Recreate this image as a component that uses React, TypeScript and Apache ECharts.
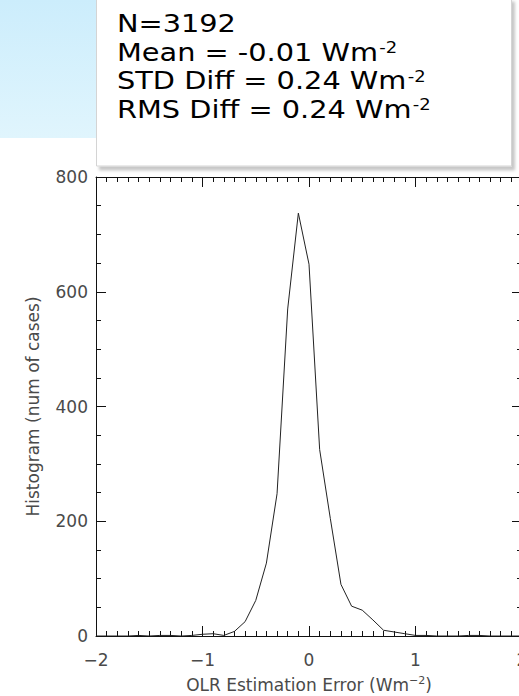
import React, { useEffect, useRef } from "react";
import * as echarts from "echarts";

const binCenters = [
  -2.0, -1.9, -1.8, -1.7, -1.6, -1.5, -1.4, -1.3, -1.2, -1.1, -1.0, -0.9, -0.8, -0.7,
  -0.6, -0.5, -0.4, -0.3, -0.2, -0.1, 0.0, 0.1, 0.2, 0.3, 0.4, 0.5, 0.6, 0.7, 0.8,
  0.9, 1.0, 1.1, 1.2, 1.3, 1.4, 1.5, 1.6, 1.7, 1.8, 1.9, 2.0,
];
const counts = [
  0, 0, 0, 0, 1, 0, 1, 1, 0, 1, 3, 4, 1, 8, 25, 62, 127, 248, 570, 737, 648, 325, 205,
  90, 52, 45, 28, 10, 7, 4, 1, 1, 0, 0, 0, 1, 1, 0, 0, 0, 0,
];
const statLines = [
  { main: "N=3192", sup: "" },
  { main: "Mean = -0.01 Wm", sup: "-2" },
  { main: "STD Diff = 0.24 Wm", sup: "-2" },
  { main: "RMS Diff = 0.24 Wm", sup: "-2" },
];
const xTitle = "OLR Estimation Error (Wm";
const xTitleSup = "\u22122";
const yTitle = "Histogram (num of cases)";

export default function App() {
  const ref = useRef<HTMLDivElement>(null);
  useEffect(() => {
    if (!ref.current) return;
    const chart = echarts.init(ref.current, null, { renderer: "svg" });
    const axisColor = "#111";
    const labelStyle = {
      fontFamily: "DejaVu Sans",
      fontSize: 17,
      color: "#4a4a4a",
    };
    const fmt = (v: number) => (v < 0 ? "\u2212" + Math.abs(v) : String(v));
    const commonX = {
      type: "value",
      min: -2,
      max: 2,
      interval: 1,
      splitLine: { show: false },
      axisLine: { show: true, onZero: false, lineStyle: { color: axisColor, width: 1 } },
      axisTick: { show: true, inside: true, length: 10, lineStyle: { color: axisColor } },
      minorTick: { show: true, splitNumber: 10, length: 5, lineStyle: { color: axisColor } },
    };
    const commonY = {
      type: "value",
      min: 0,
      max: 800,
      interval: 200,
      splitLine: { show: false },
      axisLine: { show: true, onZero: false, lineStyle: { color: axisColor, width: 1 } },
      axisTick: { show: true, inside: true, length: 10, lineStyle: { color: axisColor } },
      minorTick: { show: true, splitNumber: 4, length: 5, lineStyle: { color: axisColor } },
    };
    const graphics: any[] = [
      {
        type: "rect",
        shape: { x: 0, y: 0, width: 96, height: 138 },
        style: {
          fill: new echarts.graphic.LinearGradient(0, 0, 0, 1, [
            { offset: 0, color: "#ccedfc" },
            { offset: 1, color: "#e0f5fd" },
          ]),
        },
        z: 0,
      },
      {
        type: "rect",
        shape: { x: 96.5, y: -2, width: 415, height: 168 },
        style: {
          fill: "#ffffff",
          stroke: "#d4d4d4",
          lineWidth: 1,
          shadowColor: "rgba(0,0,0,0.22)",
          shadowBlur: 3,
          shadowOffsetX: 3,
          shadowOffsetY: 4,
        },
        z: 1,
      },
    ];
    const lineYs = [23, 52, 80.5, 109];
    statLines.forEach((ln, i) => {
      graphics.push({
        type: "text",
        x: 117,
        y: lineYs[i],
        scaleX: 1.2,
        scaleY: 1,
        z: 2,
        style: {
          text: ln.sup ? `{a|${ln.main}}{s|${ln.sup}}` : `{a|${ln.main}}`,
          x: 0,
          y: 0,
          verticalAlign: "middle",
          align: "left",
          rich: {
            a: { fontFamily: "DejaVu Sans", fontSize: 24, fill: "#000", lineHeight: 28 },
            s: {
              fontFamily: "DejaVu Sans",
              fontSize: 15,
              fill: "#000",
              lineHeight: 15,
              verticalAlign: "top",
              padding: [3, 0, 0, 1],
            },
          },
        },
      });
    });
    chart.setOption({
      animation: false,
      backgroundColor: "#ffffff",
      grid: {
        left: 96,
        top: 177,
        width: 426,
        height: 459,
        containLabel: false,
        outerBoundsMode: "none",
      },
      xAxis: [
        {
          ...commonX,
          position: "bottom",
          axisLabel: { ...labelStyle, margin: 15, formatter: fmt },
          name: `{t|${xTitle}}{s|${xTitleSup}}{t|)}`,
          nameLocation: "middle",
          nameGap: 39,
          nameTextStyle: {
            rich: {
              t: { fontFamily: "DejaVu Sans", fontSize: 17, color: "#4a4a4a", lineHeight: 20 },
              s: {
                fontFamily: "DejaVu Sans",
                fontSize: 11,
                color: "#4a4a4a",
                lineHeight: 11,
                verticalAlign: "top",
              },
            },
          },
        },
        {
          ...commonX,
          position: "top",
          axisLabel: { show: false },
        },
      ],
      yAxis: [
        {
          ...commonY,
          position: "left",
          axisLabel: { ...labelStyle, margin: 8 },
          name: yTitle,
          nameLocation: "middle",
          nameGap: 55,
          nameTextStyle: { fontFamily: "DejaVu Sans", fontSize: 17, color: "#4a4a4a" },
        },
        {
          ...commonY,
          position: "right",
          axisLabel: { show: false },
        },
      ],
      graphic: graphics,
      series: [
        {
          type: "line",
          xAxisIndex: 0,
          yAxisIndex: 0,
          data: binCenters.map((x, i) => [x, counts[i]]),
          symbol: "none",
          lineStyle: { color: "#222", width: 1 },
          z: 3,
        },
      ],
    });
    return () => chart.dispose();
  }, []);
  return (
    <div
      ref={ref}
      style={{ position: "fixed", left: 0, top: 0, width: 519, height: 696 }}
    />
  );
}
